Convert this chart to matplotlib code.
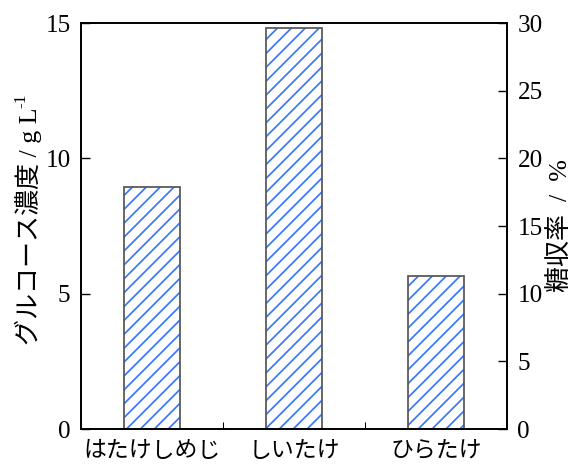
import matplotlib
matplotlib.use('Agg')
import matplotlib.pyplot as plt

# --- data ---
categories = ['はたけしめじ', 'しいたけ', 'ひらたけ']
glucose = [8.95, 14.8, 5.65]   # g/L
left_ticks = [0, 5, 10, 15]
right_ticks = [0, 5, 10, 15, 20, 25, 30]

SERIF = ['Liberation Serif', 'DejaVu Serif']
JP = ['Noto Sans CJK JP', 'DejaVu Sans']
MIX = ['Liberation Serif', 'Noto Sans CJK JP']

plt.rcParams['hatch.linewidth'] = 1.0
plt.rcParams['axes.linewidth'] = 1.0

DPI = 125
fig = plt.figure(figsize=(575 / DPI, 465 / DPI), dpi=DPI)
ax = fig.add_axes([0.1409, 0.0774, 0.7408, 0.8731])

x = list(range(len(categories)))
# hatch layer then outline layer
ax.bar(x, glucose, width=0.4, color='none', edgecolor='#3878ff', hatch='///', linewidth=0)
ax.bar(x, glucose, width=0.4, color='none', edgecolor='#555555', linewidth=1.0)

ax.set_xlim(-0.5, 2.5)
ax.set_ylim(0, 15)
ax.set_yticks(left_ticks)
ax.set_yticklabels([str(t) for t in left_ticks], family=SERIF, fontsize=14.5)
ax.set_xticks(x)
ax.set_xticklabels(categories, family=JP, fontsize=13.2)
ax.set_xticks([0.5, 1.5], minor=True)
ax.tick_params(axis='x', which='major', length=0, pad=6)
ax.tick_params(axis='x', which='minor', direction='in', length=4)
ax.tick_params(axis='y', direction='in', length=5, pad=6)
ax.set_ylabel('グルコース濃度 / g L', family=MIX, fontsize=15, labelpad=2)

ax2 = ax.twinx()
ax2.set_ylim(0, 30)
ax2.set_yticks(right_ticks)
ax2.set_yticklabels([str(t) for t in right_ticks], family=SERIF, fontsize=14.5)
ax2.tick_params(axis='y', direction='in', length=5, pad=6)
ax2.set_ylabel('糖収率  /  %', family=MIX, fontsize=15, labelpad=3)

# superscript -1 after "L" on the rotated label
fig.canvas.draw()
bb = ax.yaxis.label.get_window_extent()
fig.text(bb.x0 - 1, bb.y1 - 1, '-1', family=SERIF, fontsize=10, rotation=90,
         ha='left', va='bottom', transform=None)

fig.savefig('out.png', dpi=DPI)
